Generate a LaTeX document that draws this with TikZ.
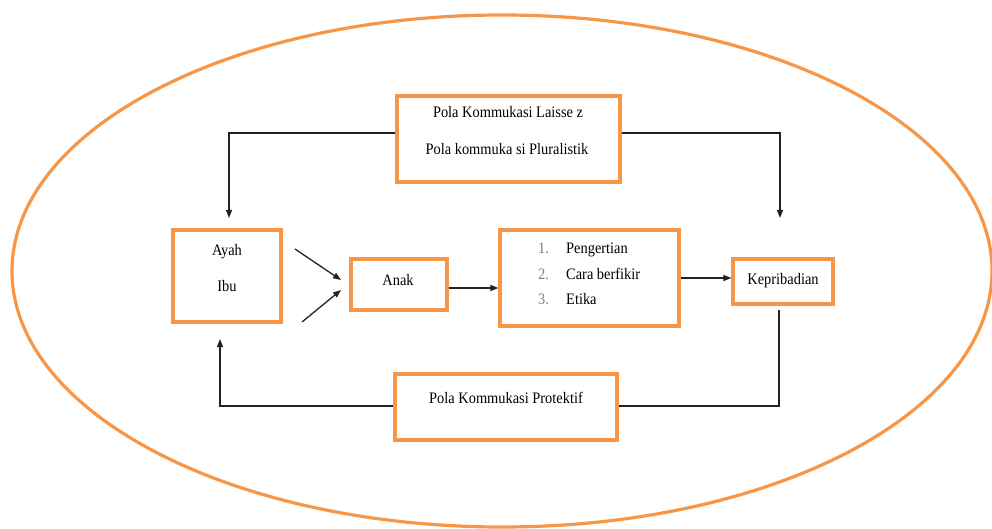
\documentclass[tikz,border=0pt]{standalone}
\usepackage{fontspec}
\setmainfont{Liberation Serif}[FakeStretch=0.9]
\usetikzlibrary{arrows.meta}
\definecolor{org}{HTML}{F79646}
\definecolor{ln}{HTML}{222222}
\definecolor{num}{HTML}{7F7F7F}
\tikzset{
  obox/.style={draw=org, line width=3.2pt, fill=white, inner sep=0pt},
  conn/.style={draw=ln, line width=1.3pt},
  arr/.style={conn, -{Triangle[length=8pt,width=6pt]}},
  txt/.style={font=\fontsize{16}{18}\selectfont, inner sep=0pt, anchor=base}
}
\begin{document}
\begin{tikzpicture}[x=1pt,y=-1pt]
\useasboundingbox (0,0) rectangle (992,529);
% ellipse
\draw[org, line width=3.2pt] (502,271) ellipse [x radius=490, y radius=256];

% boxes
\node[obox, minimum width=223pt, minimum height=86pt] (top) at (508.5,139) {};
\node[txt] at (508,118) {Pola Kommukasi Laisse z};
\node[txt] at (507,155) {Pola kommuka si Pluralistik};

\node[obox, minimum width=108pt, minimum height=92pt] (ayah) at (227,276) {};
\node[txt] at (227,255) {Ayah};
\node[txt] at (227,291) {Ibu};

\node[obox, minimum width=96pt, minimum height=51pt] (anak) at (399,284.5) {};
\node[txt] at (398,285) {Anak};

\node[obox, minimum width=179pt, minimum height=96pt] (list) at (589.5,278) {};
\node[txt, anchor=base west, text=num] at (538,254) {1.};
\node[txt, anchor=base west] at (566,254) {Pengertian};
\node[txt, anchor=base west, text=num] at (538,279) {2.};
\node[txt, anchor=base west] at (566,279) {Cara berfikir};
\node[txt, anchor=base west, text=num] at (538,304) {3.};
\node[txt, anchor=base west] at (566,304) {Etika};

\node[obox, minimum width=100pt, minimum height=45pt] (kep) at (783,281.5) {};
\node[txt] at (783,284) {Kepribadian};

\node[obox, minimum width=222pt, minimum height=66pt] (bot) at (506,407) {};
\node[txt] at (506,403) {Pola Kommukasi Protektif};

% coordinates
\coordinate (tl) at (229,218);
\coordinate (tr) at (780,218);
\coordinate (a1s) at (295,249);
\coordinate (a1e) at (341,280);
\coordinate (a2s) at (302,322);
\coordinate (a2e) at (341,290);
\coordinate (ks) at (779,310);
\coordinate (bl) at (220,339);

% connectors
\draw[arr] (top.west |- 0,133) -| (tl);
\draw[arr] (top.east |- 0,133) -| (tr);
\draw[arr] (a1s) -- (a1e);
\draw[arr] (a2s) -- (a2e);
\draw[arr] (anak.east |- 0,288) -- (list.west |- 0,288);
\draw[arr] (list.east |- 0,278) -- (kep.west |- 0,278);
\draw[conn] (ks) |- (bot.east |- 0,406);
\draw[arr] (bot.west |- 0,406) -| (bl);
\end{tikzpicture}
\end{document}
